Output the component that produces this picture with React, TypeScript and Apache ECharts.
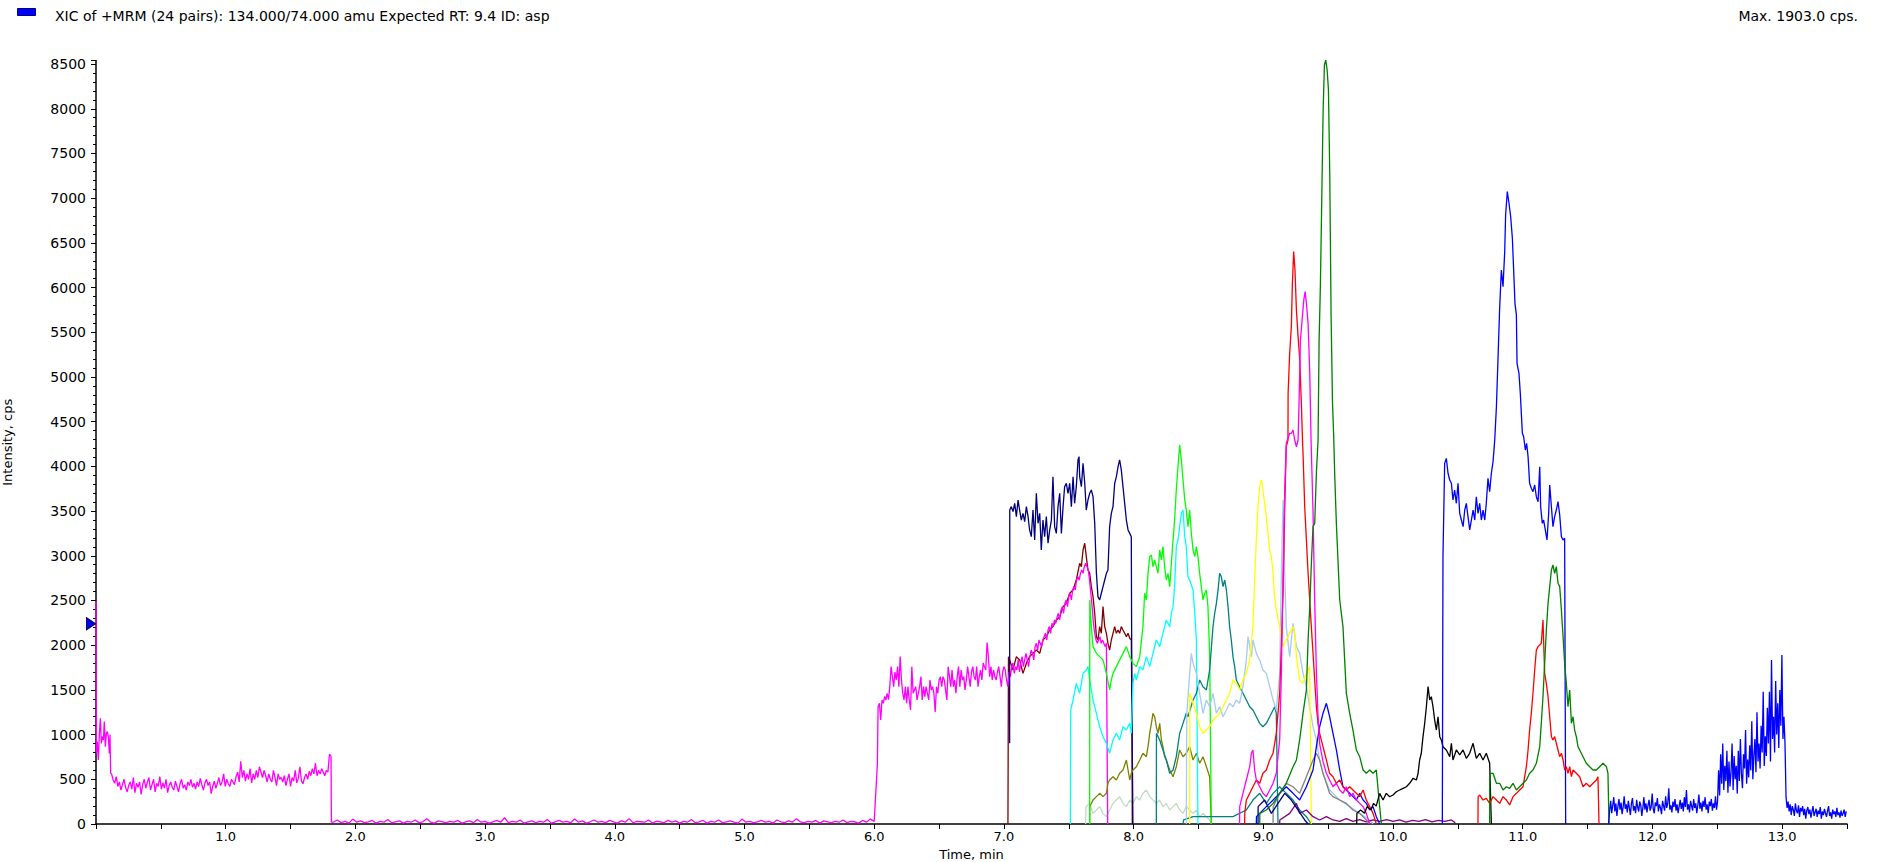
import React, { useEffect, useRef } from "react";
import * as echarts from "echarts";

type P = [number, number];

// ---------- axes / texts ----------
const xMin = 0;
const xMax = 13.5;
const xTickStep = 0.5;
const yMin = 0;
const yMax = 8540;
const yTickStep = 500;
const titleText = "XIC of +MRM (24 pairs): 134.000/74.000 amu Expected RT: 9.4 ID: asp";
const maxText = "Max. 1903.0 cps.";
const xAxisName = "Time, min";
const yAxisName = "Intensity, cps";
const cursorValue = 2240;

// ---------- magenta (0 - 7.8 min) ----------
const magentaStartPoints: P[] = [
  [0, 2491], [0.003, 790], [0.010, 921], [0.018, 716], [0.026, 1014], [0.034, 1182], [0.041, 902],
  [0.049, 977], [0.057, 940], [0.064, 1145], [0.072, 865], [0.080, 1014], [0.087, 1033], [0.095, 977],
  [0.103, 790], [0.108, 1000], [0.113, 567],
];
const magentaNoise1Start = 0.12;
const magentaNoise1Step = 0.012;
const magentaNoise1Values = [
  560, 492, 455, 530, 420, 470, 380, 440, 500, 410, 360,
  430, 470, 390, 520, 350, 455, 410, 470, 330, 440, 500,
  400, 470, 520, 380, 440, 500, 360, 455, 420, 530, 390,
  460, 400, 500, 350, 430, 470, 410, 380, 480, 420, 360,
  450, 500, 400, 440, 380, 470, 430, 500, 410, 455, 390,
  470, 420, 510, 440, 380, 460, 500, 430, 470, 340, 420,
  480, 400, 455, 520, 430, 470, 560, 420, 500, 450, 420,
  500, 470, 440, 530, 580, 470, 700, 520, 600, 480, 560,
  500, 620, 460, 560, 500, 600, 520, 640, 580, 520, 600,
  540, 470, 560, 500, 470, 600, 520, 430, 560, 500, 520,
  470, 540, 430, 500, 560, 420, 520, 480, 600, 460, 510,
  640, 480, 450, 520, 560, 500, 590, 540, 620, 560, 680,
  540, 600, 560, 620, 580, 540, 600, 580, 780,
];
const magentaDropPoints: P[] = [[1.812, 760], [1.815, 20]];
const magentaBaseStart = 1.83;
const magentaBaseStep = 0.03;
const magentaBaseValues = [
  20, 45, 15, 30, 10, 55, 20, 35, 15, 25,
  40, 10, 30, 20, 50, 15, 25, 35, 10, 30,
  20, 45, 15, 25, 60, 20, 10, 35, 25, 15,
  30, 20, 40, 10, 25, 35, 15, 50, 20, 30,
  10, 25, 40, 20, 70, 15, 30, 20, 45, 10,
  25, 35, 15, 30, 20, 50, 10, 25, 40, 20,
  30, 15, 55, 20, 35, 10, 25, 45, 20, 30,
  15, 40, 25, 10, 35, 20, 60, 15, 30, 25,
  20, 45, 10, 30, 25, 15, 40, 20, 35, 10,
  30, 20, 50, 15, 25, 40, 10, 30, 20, 45,
  15, 25, 35, 20, 10, 55, 20, 30, 15, 25,
  40, 20, 30, 10, 45, 25, 15, 35, 20, 60,
  25, 15, 30, 20, 40, 10, 35, 25, 15, 30,
  20, 45, 15, 30, 25, 10, 40, 20, 55, 30,
];
const magentaRisePoints: P[] = [[6.024, 660]];
const magentaPlateauStart = 6.03;
const magentaPlateauStep = 0.01;
const magentaPlateauValues = [
  1312, 1350, 1164, 1387, 1350, 1425, 1387,
  1462, 1390, 1536, 1760, 1648, 1536, 1700, 1611, 1760, 1536,
  1872, 1611, 1462, 1387, 1536, 1350, 1536, 1387, 1275, 1760,
  1462, 1500, 1536, 1387, 1462, 1536, 1648, 1387, 1536, 1425,
  1536, 1462, 1387, 1611, 1500, 1536, 1462, 1252, 1536, 1462,
  1611, 1648, 1536, 1648, 1611, 1500, 1387, 1760, 1648, 1536,
  1723, 1536, 1611, 1462, 1648, 1760, 1536, 1723, 1611, 1648,
  1500, 1611, 1760, 1648, 1536, 1700, 1760, 1648, 1611, 1760,
  1536, 1648, 1723, 1611, 1800, 1760, 1723, 2030, 1872, 1648,
  1760, 1611, 1723, 1648, 1611, 1700, 1760, 1648, 1536, 1700,
  1760, 1723, 1611, 1536, 1700, 1648, 1760, 1800, 1685, 1760,
  1723, 1836, 1700, 1800, 1872, 1760, 1836, 1909, 1836, 1760,
  1872, 1946, 1909, 1836, 1984, 2021, 1946, 2058, 2021, 1984,
  2058, 2096, 2133, 2058, 2170, 2208, 2133, 2245, 2208, 2282,
  2245, 2319, 2357, 2282, 2394, 2431, 2357, 2468, 2506, 2431,
  2543, 2581, 2506, 2618, 2655, 2618, 2729, 2767, 2729, 2804,
  2841, 2804, 2879, 2916, 2879, 2841, 2729, 2581, 2431, 2245,
  2133, 2058, 2021, 2058, 2096, 2021, 2058, 2021, 1984, 2021,
];
const magentaEndPoints: P[] = [[7.8, 0]];

// ---------- 7 - 8.6 min ----------
const maroonPoints: P[] = [
  [7.031, 0], [7.035, 1872], [7.044, 1835], [7.070, 1723], [7.096, 1872], [7.121, 1835], [7.147, 1685],
  [7.173, 1797], [7.198, 1872], [7.224, 1909], [7.250, 1946], [7.276, 1909], [7.301, 2058], [7.327, 2096],
  [7.353, 2170], [7.378, 2208], [7.404, 2282], [7.430, 2319], [7.456, 2431], [7.481, 2468], [7.507, 2581],
  [7.533, 2618], [7.558, 2729], [7.584, 2916], [7.597, 2879], [7.610, 3065], [7.623, 3140], [7.635, 2990],
  [7.648, 2841], [7.661, 2804], [7.674, 2655], [7.687, 2543], [7.700, 2357], [7.713, 2096], [7.725, 2058],
  [7.738, 2208], [7.751, 2133], [7.764, 2431], [7.777, 2208], [7.790, 2133], [7.802, 2021], [7.815, 1946],
  [7.828, 2058], [7.841, 2133], [7.854, 2208], [7.867, 2133], [7.880, 2170], [7.892, 2133], [7.905, 2208],
  [7.918, 2170], [7.931, 2133], [7.944, 2096], [7.957, 2133], [7.970, 2077], [7.982, 2058], [7.995, 0],
];
const navyPoints: P[] = [
  [7.044, 903], [7.045, 3512], [7.057, 3550], [7.070, 3494], [7.083, 3587], [7.096, 3438], [7.109, 3624],
  [7.121, 3512], [7.134, 3400], [7.147, 3475], [7.160, 3382], [7.173, 3550], [7.186, 3438], [7.198, 3289],
  [7.211, 3214], [7.224, 3512], [7.237, 3177], [7.250, 3699], [7.263, 3363], [7.276, 3475], [7.288, 3065],
  [7.301, 3400], [7.314, 3214], [7.327, 3438], [7.340, 3140], [7.353, 3289], [7.366, 3400], [7.378, 3885],
  [7.391, 3326], [7.404, 3251], [7.417, 3550], [7.430, 3699], [7.443, 3251], [7.456, 3550], [7.468, 3773],
  [7.481, 3811], [7.494, 3699], [7.507, 3811], [7.520, 3550], [7.533, 3885], [7.545, 3587], [7.558, 3773],
  [7.571, 4072], [7.579, 4109], [7.584, 3885], [7.597, 3773], [7.610, 4034], [7.623, 3811], [7.635, 3512],
  [7.648, 3624], [7.661, 3699], [7.674, 3736], [7.687, 3661], [7.700, 3363], [7.713, 2804], [7.725, 2543],
  [7.738, 2506], [7.751, 2581], [7.764, 2655], [7.777, 2729], [7.790, 2804], [7.802, 2841], [7.815, 3326],
  [7.828, 3475], [7.841, 3550], [7.854, 3811], [7.867, 3885], [7.880, 3997], [7.892, 4072], [7.905, 3960],
  [7.918, 3773], [7.931, 3587], [7.944, 3400], [7.957, 3289], [7.970, 3251], [7.982, 3214], [7.990, 0],
];
const paleGreenPoints: P[] = [
  [7.63, 0], [7.632, 194], [7.661, 231], [7.687, 119], [7.713, 157], [7.738, 194], [7.764, 119], [7.790, 82],
  [7.815, 157], [7.841, 231], [7.867, 268], [7.892, 306], [7.918, 231], [7.944, 194], [7.970, 268], [7.995, 231],
  [8.021, 306], [8.047, 268], [8.072, 343], [8.098, 380], [8.124, 306], [8.149, 268], [8.175, 231], [8.201, 268],
  [8.226, 194], [8.252, 231], [8.278, 157], [8.304, 194], [8.329, 231], [8.355, 157], [8.381, 119], [8.406, 194],
  [8.432, 157], [8.458, 119], [8.484, 157], [8.509, 82], [8.535, 119], [8.561, 82], [8.586, 45], [8.6, 0],
];
const olivePoints: P[] = [
  [7.661, 0], [7.662, 194], [7.674, 231], [7.687, 268], [7.713, 306], [7.738, 343], [7.764, 306], [7.790, 343],
  [7.802, 455], [7.815, 492], [7.841, 529], [7.867, 492], [7.892, 567], [7.918, 604], [7.944, 716], [7.970, 492],
  [7.982, 567], [7.995, 604], [8.021, 641], [8.047, 716], [8.072, 791], [8.098, 753], [8.111, 865], [8.124, 1014],
  [8.137, 1126], [8.149, 1238], [8.162, 1200], [8.175, 1088], [8.188, 1014], [8.201, 1126], [8.214, 940],
  [8.226, 865], [8.239, 753], [8.252, 716], [8.278, 604], [8.304, 529], [8.329, 641], [8.355, 828], [8.381, 753],
  [8.406, 791], [8.432, 865], [8.458, 716], [8.484, 791], [8.509, 679], [8.535, 753], [8.561, 641], [8.586, 529],
  [8.599, 0],
];
const cyanPoints: P[] = [
  [7.512, 0], [7.515, 1275], [7.533, 1387], [7.558, 1573], [7.584, 1462], [7.610, 1685], [7.635, 1723],
  [7.648, 1760], [7.661, 1611], [7.687, 1387], [7.713, 1238], [7.738, 1088], [7.764, 977], [7.790, 902],
  [7.815, 791], [7.828, 865], [7.841, 940], [7.867, 1014], [7.892, 940], [7.918, 1088], [7.944, 1051],
  [7.970, 1126], [7.982, 1014], [7.995, 1573], [8.008, 1685], [8.021, 1611], [8.047, 1760], [8.072, 1723],
  [8.098, 1872], [8.124, 1760], [8.149, 1909], [8.175, 2058], [8.201, 1984], [8.226, 2133], [8.252, 2282],
  [8.278, 2208], [8.291, 2357], [8.304, 2431], [8.316, 2655], [8.329, 3102], [8.342, 3177], [8.355, 3326],
  [8.368, 3475], [8.381, 3512], [8.394, 3214], [8.406, 3102], [8.419, 2767], [8.432, 2729], [8.458, 2618],
  [8.471, 2357], [8.484, 2058], [8.496, 0],
];
const limePoints: P[] = [
  [7.661, 0], [7.662, 2506], [7.674, 2208], [7.687, 1984], [7.713, 1909], [7.738, 1872], [7.764, 1835],
  [7.790, 1685], [7.815, 1499], [7.828, 1611], [7.841, 1685], [7.867, 1760], [7.892, 1835], [7.918, 1909],
  [7.944, 1984], [7.970, 1872], [7.995, 1797], [8.021, 1760], [8.047, 1872], [8.072, 2208], [8.085, 2581],
  [8.098, 2506], [8.111, 2804], [8.124, 2990], [8.137, 3009], [8.149, 2879], [8.162, 2953], [8.175, 2879],
  [8.188, 2804], [8.201, 3065], [8.214, 2953], [8.226, 3102], [8.239, 2879], [8.252, 2729], [8.265, 2804],
  [8.278, 2655], [8.291, 2916], [8.304, 3177], [8.316, 3400], [8.329, 3736], [8.342, 3997], [8.355, 4240],
  [8.368, 4072], [8.381, 3848], [8.394, 3624], [8.406, 3512], [8.419, 3326], [8.432, 3512], [8.445, 3251],
  [8.458, 3065], [8.471, 2990], [8.484, 3102], [8.496, 2990], [8.509, 2804], [8.522, 2655], [8.535, 2506],
  [8.548, 2581], [8.561, 2618], [8.573, 2431], [8.586, 1909], [8.599, 0],
];
const tealPoints: P[] = [
  [8.175, 0], [8.176, 1014], [8.201, 940], [8.226, 828], [8.252, 716], [8.278, 567], [8.304, 604], [8.329, 753],
  [8.355, 1014], [8.381, 1126], [8.406, 1238], [8.419, 1200], [8.458, 1387], [8.484, 1462], [8.509, 1611],
  [8.535, 1536], [8.561, 1499], [8.586, 1723], [8.612, 2208], [8.625, 2357], [8.638, 2468], [8.651, 2618],
  [8.663, 2804], [8.676, 2767], [8.689, 2655], [8.702, 2729], [8.715, 2618], [8.728, 2431], [8.740, 2208],
  [8.753, 2058], [8.766, 1872], [8.779, 1760], [8.792, 1611], [8.817, 1536], [8.843, 1462], [8.869, 1387],
  [8.895, 1312], [8.920, 1275], [8.946, 1200], [8.972, 1126], [8.997, 1088], [9.023, 1126], [9.049, 1200],
  [9.075, 1275], [9.087, 1312], [9.100, 1238], [9.113, 0],
];
const tealSmallPoints: P[] = [
  [8.381, 0], [8.385, 45], [8.458, 82], [8.612, 82], [8.766, 82], [8.869, 157], [8.920, 268], [8.972, 343],
  [9.023, 231], [9.075, 343], [9.126, 417], [9.177, 343], [9.229, 268], [9.280, 157], [9.332, 82], [9.370, 0],
];
const lightBluePoints: P[] = [
  [8.406, 0], [8.410, 1238], [8.432, 1685], [8.445, 1909], [8.458, 1797], [8.484, 1685], [8.509, 1462],
  [8.535, 1238], [8.561, 1387], [8.586, 1312], [8.612, 1462], [8.638, 1238], [8.663, 1312], [8.689, 1200],
  [8.715, 1275], [8.740, 1350], [8.766, 1312], [8.792, 1387], [8.817, 1350], [8.843, 1536], [8.869, 1835],
  [8.882, 2096], [8.895, 1984], [8.908, 1872], [8.920, 2058], [8.946, 1909], [8.972, 1835], [8.997, 1723],
  [9.023, 1685], [9.049, 1536], [9.075, 1387], [9.100, 1275], [9.126, 1685], [9.139, 2804], [9.152, 3624],
  [9.165, 2804], [9.177, 2208], [9.203, 1872], [9.229, 2245], [9.255, 1984], [9.280, 1909], [9.306, 1685],
  [9.332, 1536], [9.357, 1312], [9.383, 1088], [9.409, 940], [9.434, 716], [9.460, 567], [9.511, 380],
  [9.589, 268], [9.666, 194], [9.743, 119], [9.820, 45], [9.846, 0],
];
const yellowPoints: P[] = [
  [8.432, 0], [8.433, 1462], [8.458, 1350], [8.484, 1238], [8.509, 1088], [8.535, 1014], [8.561, 1051],
  [8.586, 1088], [8.612, 1163], [8.638, 1200], [8.663, 1238], [8.689, 1312], [8.715, 1387], [8.740, 1462],
  [8.766, 1611], [8.792, 1573], [8.817, 1499], [8.843, 1611], [8.869, 1685], [8.895, 1835], [8.920, 2208],
  [8.933, 2729], [8.946, 3177], [8.959, 3550], [8.972, 3773], [8.985, 3848], [8.997, 3736], [9.010, 3587],
  [9.023, 3438], [9.036, 3251], [9.049, 3065], [9.062, 2990], [9.075, 2804], [9.087, 2543], [9.100, 2394],
  [9.126, 2208], [9.152, 1984], [9.177, 2058], [9.203, 2133], [9.229, 2208], [9.242, 2133], [9.255, 1872],
  [9.280, 1611], [9.306, 1573], [9.332, 1685], [9.357, 1760], [9.370, 0],
];

// ---------- 8.8 - 10 min ----------
const purplePoints: P[] = [
  [9.126, 0], [9.127, 45], [9.203, 119], [9.255, 231], [9.280, 119], [9.332, 157], [9.383, 82], [9.434, 45],
  [9.486, 82], [9.537, 45], [9.589, 30], [9.640, 60], [9.691, 30], [9.743, 50], [9.794, 25], [9.846, 45],
  [9.897, 30], [9.95, 50], [10.0, 30], [10.05, 45], [10.10, 20], [10.15, 40], [10.20, 30], [10.25, 50],
  [10.30, 25], [10.35, 40], [10.40, 30], [10.45, 45], [10.475, 20], [10.48, 0],
];
const grayPoints: P[] = [
  [9.075, 0], [9.076, 194], [9.126, 343], [9.177, 455], [9.229, 417], [9.280, 343], [9.332, 529], [9.383, 716],
  [9.409, 791], [9.434, 716], [9.460, 567], [9.486, 455], [9.511, 343], [9.537, 306], [9.589, 268], [9.640, 231],
  [9.691, 157], [9.743, 119], [9.794, 45], [9.820, 0],
];
const navySmallPoints: P[] = [
  [8.959, 0], [8.960, 194], [9.010, 268], [9.062, 119], [9.113, 231], [9.165, 343], [9.216, 268], [9.267, 157],
  [9.319, 45], [9.345, 0],
];
const blueSmallPoints: P[] = [
  [8.946, 0], [8.947, 82], [8.972, 119], [9.023, 194], [9.075, 268], [9.126, 343], [9.177, 417], [9.229, 343],
  [9.280, 268], [9.332, 417], [9.383, 604], [9.409, 865], [9.434, 1088], [9.460, 1238], [9.486, 1350],
  [9.499, 1275], [9.511, 1200], [9.537, 1014], [9.563, 828], [9.589, 604], [9.614, 417], [9.640, 380],
  [9.666, 343], [9.691, 306], [9.717, 268], [9.743, 343], [9.769, 268], [9.794, 231], [9.820, 157], [9.846, 194],
  [9.871, 82], [9.897, 0],
];
const redTallPoints: P[] = [
  [8.856, 0], [8.857, 119], [8.869, 268], [8.895, 343], [8.920, 417], [8.946, 492], [8.972, 455], [8.997, 567],
  [9.023, 604], [9.049, 716], [9.075, 791], [9.100, 1014], [9.126, 1462], [9.139, 1984], [9.152, 2581],
  [9.165, 3550], [9.177, 4221], [9.190, 4295], [9.191, 4817], [9.203, 5265], [9.216, 5563], [9.224, 6048],
  [9.234, 6402], [9.244, 6197], [9.255, 5750], [9.268, 5451], [9.281, 5190], [9.294, 4668], [9.302, 4295],
  [9.306, 4146], [9.319, 3550], [9.345, 2804], [9.370, 2208], [9.383, 1909], [9.396, 1611], [9.409, 1312],
  [9.422, 1126], [9.434, 1014], [9.460, 865], [9.486, 716], [9.511, 567], [9.537, 529], [9.563, 455],
  [9.589, 492], [9.614, 417], [9.640, 380], [9.666, 417], [9.691, 380], [9.717, 343], [9.743, 306],
  [9.769, 380], [9.794, 268], [9.820, 194], [9.846, 119], [9.871, 0],
];
const magentaTallPoints: P[] = [
  [8.817, 0], [8.818, 194], [8.843, 343], [8.869, 492], [8.895, 641], [8.908, 791], [8.920, 828], [8.933, 604],
  [8.946, 492], [8.972, 417], [8.997, 343], [9.023, 306], [9.049, 380], [9.075, 455], [9.100, 567], [9.126, 940],
  [9.139, 1685], [9.152, 2804], [9.165, 3736], [9.177, 4258], [9.203, 4370], [9.216, 4370], [9.229, 4407],
  [9.242, 4295], [9.255, 4220], [9.268, 4295], [9.276, 4762], [9.286, 5414], [9.301, 5675], [9.312, 5862],
  [9.322, 5955], [9.332, 5824], [9.345, 5600], [9.358, 5041], [9.368, 4295], [9.383, 3500], [9.396, 2500],
  [9.409, 1700], [9.422, 1200], [9.434, 900], [9.460, 700], [9.486, 567], [9.511, 492], [9.537, 417],
  [9.563, 455], [9.589, 380], [9.614, 343], [9.640, 417], [9.666, 306], [9.691, 343], [9.717, 268],
  [9.743, 231], [9.769, 194], [9.794, 119], [9.820, 0],
];
const darkGreenTallPoints: P[] = [
  [8.972, 0], [8.973, 119], [9.023, 157], [9.075, 231], [9.126, 343], [9.177, 455], [9.229, 641], [9.255, 716],
  [9.280, 940], [9.306, 1238], [9.332, 1500], [9.345, 2058], [9.357, 2400], [9.370, 2900], [9.383, 3326],
  [9.396, 3363], [9.409, 3923], [9.422, 4295], [9.430, 5414], [9.440, 6030], [9.450, 6942], [9.461, 7986],
  [9.471, 8490], [9.481, 8546], [9.492, 8434], [9.502, 8210], [9.512, 7278], [9.517, 6532], [9.522, 5730],
  [9.533, 4725], [9.543, 4314], [9.550, 3922], [9.563, 3363], [9.589, 2506], [9.614, 2208], [9.640, 1462],
  [9.666, 1238], [9.691, 1051], [9.717, 828], [9.743, 753], [9.769, 604], [9.794, 567], [9.820, 604],
  [9.846, 567], [9.871, 604], [9.897, 194], [9.910, 0],
];

// ---------- 9.7 - 11.7 min ----------
const blackPoints: P[] = [
  [9.72, 0], [9.721, 119], [9.75, 157], [9.78, 120], [9.80, 194], [9.83, 160], [9.85, 231], [9.87, 200],
  [9.897, 343], [9.923, 268], [9.948, 343], [9.974, 305], [10.0, 324], [10.025, 361], [10.051, 380],
  [10.077, 399], [10.103, 417], [10.128, 455], [10.154, 511], [10.180, 492], [10.193, 567], [10.205, 716],
  [10.218, 791], [10.231, 977], [10.244, 1126], [10.257, 1312], [10.270, 1536], [10.283, 1387], [10.295, 1424],
  [10.308, 1312], [10.321, 1163], [10.334, 1051], [10.347, 1200], [10.360, 977], [10.372, 940], [10.385, 865],
  [10.411, 828], [10.437, 753], [10.450, 903], [10.462, 716], [10.488, 828], [10.514, 772], [10.540, 828],
  [10.565, 735], [10.591, 791], [10.617, 903], [10.642, 735], [10.668, 791], [10.694, 716], [10.719, 791],
  [10.745, 679], [10.758, 0],
];
const blueBigPoints: P[] = [
  [10.380, 0], [10.385, 2990], [10.398, 4034], [10.411, 4090], [10.424, 3923], [10.437, 3848], [10.450, 3811],
  [10.462, 3624], [10.475, 3736], [10.488, 3587], [10.501, 3811], [10.514, 3475], [10.527, 3400], [10.540, 3326],
  [10.553, 3512], [10.565, 3587], [10.578, 3438], [10.591, 3289], [10.604, 3400], [10.617, 3512], [10.630, 3400],
  [10.642, 3661], [10.655, 3475], [10.668, 3587], [10.681, 3400], [10.694, 3512], [10.707, 3400], [10.719, 3587],
  [10.732, 3867], [10.745, 3717], [10.758, 3923], [10.771, 4053], [10.784, 4295], [10.797, 4668], [10.809, 5190],
  [10.822, 5768], [10.835, 6197], [10.848, 6011], [10.861, 6402], [10.868, 6812], [10.881, 7073], [10.894, 6943],
  [10.907, 6793], [10.920, 6551], [10.933, 6085], [10.940, 5824], [10.951, 5694], [10.956, 5153], [10.971, 5041],
  [10.982, 4799], [10.997, 4370], [11.007, 4332], [11.020, 4183], [11.030, 4258], [11.041, 4109], [11.053, 3811],
  [11.066, 3755], [11.079, 3717], [11.092, 3792], [11.105, 3661], [11.118, 3605], [11.131, 3997], [11.138, 3549],
  [11.151, 3363], [11.161, 3400], [11.174, 3289], [11.187, 3177], [11.200, 3475], [11.208, 3792], [11.221, 3549],
  [11.233, 3326], [11.246, 3438], [11.259, 3512], [11.272, 3605], [11.285, 3457], [11.298, 3214], [11.311, 3177],
  [11.323, 3196], [11.331, 0],
];
const redLatePoints: P[] = [
  [10.655, 0], [10.656, 306], [10.668, 324], [10.694, 268], [10.719, 287], [10.745, 231], [10.771, 306],
  [10.797, 268], [10.822, 231], [10.848, 306], [10.874, 268], [10.899, 213], [10.925, 306], [10.951, 343],
  [10.976, 380], [11.002, 417], [11.028, 641], [11.041, 828], [11.053, 1051], [11.066, 1238], [11.079, 1462],
  [11.092, 1723], [11.105, 1946], [11.118, 1984], [11.131, 2002], [11.143, 2021], [11.156, 2282], [11.169, 1685],
  [11.182, 1573], [11.195, 1424], [11.208, 1200], [11.221, 977], [11.233, 940], [11.246, 977], [11.259, 903],
  [11.272, 828], [11.285, 753], [11.298, 791], [11.311, 716], [11.323, 604], [11.336, 641], [11.349, 567],
  [11.362, 641], [11.375, 529], [11.388, 604], [11.413, 567], [11.439, 529], [11.465, 417], [11.490, 455],
  [11.516, 417], [11.542, 455], [11.568, 492], [11.580, 529], [11.588, 0],
];
const darkGreenLatePoints: P[] = [
  [10.745, 0], [10.746, 567], [10.758, 567], [10.771, 567], [10.797, 455], [10.822, 455], [10.848, 380],
  [10.874, 417], [10.899, 399], [10.925, 455], [10.951, 380], [10.976, 417], [11.002, 455], [11.028, 492],
  [11.053, 567], [11.079, 604], [11.105, 679], [11.131, 865], [11.143, 1126], [11.156, 1424], [11.169, 1797],
  [11.182, 2170], [11.195, 2468], [11.208, 2655], [11.221, 2841], [11.233, 2897], [11.246, 2804], [11.259, 2879],
  [11.272, 2692], [11.285, 2655], [11.298, 2394], [11.311, 2096], [11.323, 1797], [11.336, 1573], [11.349, 1312],
  [11.362, 1499], [11.375, 1126], [11.388, 1200], [11.400, 1051], [11.413, 977], [11.426, 865], [11.439, 828],
  [11.452, 791], [11.465, 753], [11.490, 679], [11.516, 641], [11.542, 604], [11.568, 604], [11.593, 641],
  [11.619, 679], [11.645, 641], [11.657, 567], [11.665, 0],
];

// ---------- blue tail (11.67 - 13.5 min) ----------
const blueTailStartPoints: P[] = [[11.662, 0]];
const blueTailAStart = 11.67;
const blueTailStep = 0.008;
const blueTailAValues = [
  150, 260, 120, 210, 300, 140, 230, 90, 200, 280,
  160, 240, 110, 190, 310, 170, 220, 130, 260, 180,
  100, 230, 290, 150, 200, 120, 270, 190, 140, 250,
  210, 90, 180, 300, 160, 230, 130, 210, 270, 150,
  190, 340, 170, 120, 240, 200, 290, 140, 220, 180,
  110, 260, 200, 150, 310, 180, 230, 400, 160, 210,
  130, 250, 190, 280, 150, 220, 120, 200, 270, 170,
  240, 140, 300, 190, 380, 160, 220, 130, 260, 200,
  150, 280, 180, 230, 120, 210, 330, 170, 240, 140,
  260, 190, 300, 160, 220, 120, 250, 200, 280, 150,
  230, 180, 310, 160, 250,
];
const blueTailBStart = 12.51;
const blueTailBValues = [
  600, 320, 780, 450, 900, 380, 650, 480, 820, 350,
  700, 420, 580, 900, 380, 760, 500, 650, 340, 820,
  480, 950, 560, 400, 780, 620, 1050, 450, 720, 520,
  880, 600, 1150, 500, 760, 950, 580, 1250, 700, 900,
  620, 1100, 800, 1480, 650, 980, 760, 1300, 900, 1480,
  700, 1835, 950, 1200, 800, 1600, 1000, 1350, 850, 1500,
  1100, 1890, 950, 1200, 900,
];
const blueTailCStart = 13.03;
const blueTailCValues = [
  300, 180, 250, 140, 220, 100, 200, 160, 90, 230,
  150, 120, 210, 80, 180, 140, 200, 100, 170, 60,
  150, 190, 110, 160, 70, 140, 200, 90, 130, 170,
  80, 150, 110, 190, 60, 140, 100, 170, 120, 80,
  150, 200, 90, 130, 60, 160, 110, 140, 80, 180,
  100, 130, 70, 150, 90, 120, 160, 80, 140,
];

function sampled(start: number, step: number, values: number[]): P[] {
  return values.map((v, i) => [Number((start + i * step).toFixed(4)), v] as P);
}

const magentaData: P[] = [
  ...magentaStartPoints,
  ...sampled(magentaNoise1Start, magentaNoise1Step, magentaNoise1Values),
  ...magentaDropPoints,
  ...sampled(magentaBaseStart, magentaBaseStep, magentaBaseValues),
  ...magentaRisePoints,
  ...sampled(magentaPlateauStart, magentaPlateauStep, magentaPlateauValues),
  ...magentaEndPoints,
];
const blueTailData: P[] = [
  ...blueTailStartPoints,
  ...sampled(blueTailAStart, blueTailStep, blueTailAValues),
  ...sampled(blueTailBStart, blueTailStep, blueTailBValues),
  ...sampled(blueTailCStart, blueTailStep, blueTailCValues),
];

const traces: { name: string; color: string; data: P[] }[] = [
  { name: "paleGreen", color: "#C0DCC0", data: paleGreenPoints },
  { name: "maroon", color: "#800000", data: maroonPoints },
  { name: "magenta", color: "#FF00FF", data: magentaData },
  { name: "navy", color: "#000080", data: navyPoints },
  { name: "olive", color: "#808000", data: olivePoints },
  { name: "cyan", color: "#00FFFF", data: cyanPoints },
  { name: "lime", color: "#00FF00", data: limePoints },
  { name: "teal", color: "#008080", data: tealPoints },
  { name: "tealSmall", color: "#008080", data: tealSmallPoints },
  { name: "lightBlue", color: "#A6CAF0", data: lightBluePoints },
  { name: "yellow", color: "#FFFF00", data: yellowPoints },
  { name: "purple", color: "#800080", data: purplePoints },
  { name: "gray", color: "#808080", data: grayPoints },
  { name: "navySmall", color: "#000080", data: navySmallPoints },
  { name: "blueSmall", color: "#0000FF", data: blueSmallPoints },
  { name: "redTall", color: "#FF0000", data: redTallPoints },
  { name: "magentaTall", color: "#FF00FF", data: magentaTallPoints },
  { name: "darkGreenTall", color: "#008000", data: darkGreenTallPoints },
  { name: "black", color: "#000000", data: blackPoints },
  { name: "blueBig", color: "#0000FF", data: blueBigPoints },
  { name: "redLate", color: "#FF0000", data: redLatePoints },
  { name: "darkGreenLate", color: "#008000", data: darkGreenLatePoints },
  { name: "blueTail", color: "#0000FF", data: blueTailData },
];

const FONT = "DejaVu Sans";

export default function App() {
  const ref = useRef<HTMLDivElement>(null);
  useEffect(() => {
    if (!ref.current) return;
    const chart = echarts.init(ref.current, undefined, { renderer: "svg" });
    const series: any[] = traces.map((t, i) => ({
      name: t.name,
      type: "line",
      data: t.data,
      showSymbol: false,
      symbol: "none",
      silent: true,
      lineStyle: { color: t.color, width: 1.3 },
      itemStyle: { color: t.color },
      emphasis: { disabled: true },
      z: 2 + i * 0.01,
      markPoint:
        t.name === "magenta"
          ? {
              silent: true,
              symbol: "triangle",
              symbolSize: [12, 9],
              symbolRotate: -90,
              symbolOffset: [-5, 0],
              itemStyle: { color: "#0000FF", borderColor: "#000040", borderWidth: 1 },
              label: { show: false },
              data: [{ coord: [0, cursorValue] }],
            }
          : undefined,
    }));
    chart.setOption({
      animation: false,
      backgroundColor: "#ffffff",
      title: [
        {
          text: titleText,
          left: 50,
          top: 4,
          textStyle: { fontFamily: FONT, fontSize: 14, fontWeight: "normal", color: "#000" },
        },
        {
          text: maxText,
          right: 24,
          top: 4,
          textStyle: { fontFamily: FONT, fontSize: 14, fontWeight: "normal", color: "#000" },
        },
      ],
      graphic: [
        {
          type: "rect",
          left: 17,
          top: 8,
          shape: { width: 18, height: 7 },
          style: { fill: "#0000FF", stroke: "#000080", lineWidth: 1 },
        },
      ],
      grid: {
        left: 96,
        right: 40,
        top: 60.5,
        bottom: 38,
        containLabel: false,
        outerBoundsMode: "none",
      },
      xAxis: {
        type: "value",
        min: xMin,
        max: xMax,
        interval: xTickStep,
        name: xAxisName,
        nameLocation: "middle",
        nameGap: 19,
        nameTextStyle: { fontFamily: FONT, fontSize: 13, color: "#000" },
        axisLine: { show: true, onZero: false, lineStyle: { color: "#000", width: 1.5 } },
        axisTick: { show: true, length: 5, lineStyle: { color: "#000" } },
        axisLabel: {
          fontFamily: FONT,
          fontSize: 13,
          color: "#000",
          margin: 6,
          showMinLabel: true,
          showMaxLabel: true,
          formatter: (v: number) =>
            v > 0 && Math.abs(v - Math.round(v)) < 1e-6 ? v.toFixed(1) : "",
        },
        splitLine: { show: false },
      },
      yAxis: {
        type: "value",
        min: yMin,
        max: yMax,
        interval: yTickStep,
        name: yAxisName,
        nameLocation: "middle",
        nameGap: 82,
        nameTextStyle: { fontFamily: FONT, fontSize: 13, color: "#000" },
        axisLine: { show: true, lineStyle: { color: "#000", width: 1.5 } },
        axisTick: { show: true, length: 5, lineStyle: { color: "#000" } },
        minorTick: { show: true, splitNumber: 5, length: 3, lineStyle: { color: "#000" } },
        axisLabel: {
          fontFamily: FONT,
          fontSize: 14,
          color: "#000",
          margin: 10,
          formatter: (v: number) => (v % yTickStep === 0 ? String(v) : ""),
        },
        splitLine: { show: false },
      },
      series,
    });
    return () => chart.dispose();
  }, []);
  return (
    <div
      ref={ref}
      style={{ position: "fixed", left: 0, top: 0, width: 1887, height: 862, background: "#fff" }}
    />
  );
}
